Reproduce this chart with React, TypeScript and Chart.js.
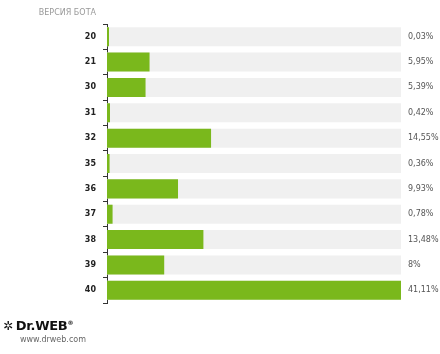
import React, { useEffect, useRef } from "react";
import { Chart, registerables } from "chart.js";

Chart.register(...registerables);

const categories = ["20", "21", "30", "31", "32", "35", "36", "37", "38", "39", "40"];
const shares = [0.03, 5.95, 5.39, 0.42, 14.55, 0.36, 9.93, 0.78, 13.48, 8, 41.11];
const axisTitle = "ВЕРСИЯ БОТА";
const fullScale = 41.11;

const fmt = (v: number) => (Number.isInteger(v) ? String(v) : v.toFixed(2).replace(".", ",")) + "%";

const valueLabels = {
  id: "valueLabels",
  afterDatasetsDraw(chart: any) {
    const ctx = chart.ctx;
    const meta = chart.getDatasetMeta(0);
    ctx.save();
    ctx.font = "8px 'DejaVu Sans', sans-serif";
    ctx.fillStyle = "#555";
    ctx.textAlign = "left";
    ctx.textBaseline = "middle";
    meta.data.forEach((el: any, i: number) => {
      ctx.fillText(fmt(shares[i]), chart.chartArea.right + 7, el.y);
    });
    ctx.restore();
  },
};

export default function App() {
  const ref = useRef<HTMLCanvasElement>(null);
  useEffect(() => {
    const chart = new Chart(ref.current!, {
      type: "bar",
      data: {
        labels: categories,
        datasets: [
          {
            data: shares,
            backgroundColor: "#7ab81c",
            grouped: false,
            barPercentage: 0.75,
            categoryPercentage: 1,
            minBarLength: 2,
          },
          {
            data: categories.map(() => fullScale),
            backgroundColor: "#f0f0f0",
            grouped: false,
            barPercentage: 0.75,
            categoryPercentage: 1,
          },
        ],
      },
      options: {
        indexAxis: "y",
        animation: false,
        responsive: false,
        layout: { padding: { top: 24, bottom: 51, right: 39, left: 0 } },
        plugins: { legend: { display: false }, tooltip: { enabled: false } },
        scales: {
          x: { display: false, min: 0, max: fullScale },
          y: {
            afterFit(scale: any) {
              scale.width = 107;
            },
            grid: {
              drawOnChartArea: false,
              tickLength: 4,
              color: "#333",
              offset: true,
            },
            border: { display: true, color: "#333", width: 1 },
            ticks: {
              padding: 7,
              color: "#222",
              font: { family: "'DejaVu Sans', sans-serif", size: 8, weight: "bold" },
            },
          },
        },
      },
      plugins: [valueLabels],
    });
    return () => chart.destroy();
  }, []);

  return (
    <div style={{ position: "fixed", left: 0, top: 0, width: 440, height: 354, background: "#fff", fontFamily: "'DejaVu Sans', sans-serif" }}>
      <canvas ref={ref} width={440} height={354} style={{ position: "absolute", left: 0, top: 0 }} />
      <div style={{ position: "absolute", right: 440 - 96, top: 8, fontSize: 8, color: "#999", whiteSpace: "nowrap" }}>{axisTitle}</div>
      <div style={{ position: "absolute", left: 3, top: 318, fontSize: 13, fontWeight: 900, color: "#111", fontFamily: "'DejaVu Sans', sans-serif", whiteSpace: "nowrap", letterSpacing: -0.3 }}>
        <span style={{ fontSize: 12, marginRight: 3 }}>✲</span>Dr.WEB<sup style={{ fontSize: 6 }}>®</sup>
      </div>
      <div style={{ position: "absolute", left: 20, top: 335, fontSize: 8, color: "#666", whiteSpace: "nowrap" }}>www.drweb.com</div>
    </div>
  );
}
